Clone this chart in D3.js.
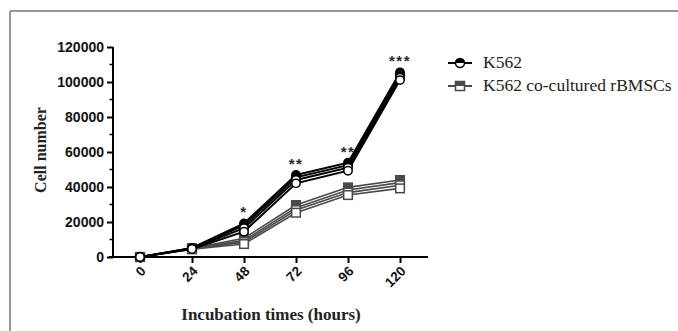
<!DOCTYPE html>
<html><head><meta charset="utf-8">
<script src="https://cdn.jsdelivr.net/npm/d3@7"></script>
<style>body{margin:0;background:#fff}svg{display:block}</style>
</head><body>
<svg id="c" width="678" height="331"></svg>
<script>
const times = [0, 24, 48, 72, 96, 120];
const yTicks = [0, 20000, 40000, 60000, 80000, 100000, 120000];
const k562Reps = [
  [0, 5200, 19200, 46900, 53900, 105500],
  [0, 5000, 18000, 45500, 52500, 104000],
  [0, 4800, 16500, 44000, 51000, 102500],
  [0, 4600, 14500, 42100, 49300, 101100]
];
const coReps = [
  [0, 5000, 10700, 29700, 39800, 44000],
  [0, 4800, 9500, 28200, 38300, 42500],
  [0, 4600, 8500, 26800, 36800, 41000],
  [0, 4400, 7400, 25300, 35400, 39200]
];
const sigTimes = [48, 72, 96, 120];
const sigLabels = ["*", "**", "**", "***"];
const seriesNames = ["K562", "K562 co-cultured rBMSCs"];

const svg = d3.select("#c");
// frame
svg.append("line").attr("x1",10).attr("y1",11).attr("x2",678).attr("y2",11).attr("stroke","#777").attr("stroke-width",1.5);
svg.append("line").attr("x1",10).attr("y1",11).attr("x2",10).attr("y2",331).attr("stroke","#777").attr("stroke-width",1.5);

const x = d3.scaleLinear().domain([0,120]).range([140,400]);
const y = d3.scaleLinear().domain([0,120000]).range([257,47]);
const x0 = 113;

// y axis
const ya = svg.append("g").attr("transform",`translate(${x0},0)`)
  .call(d3.axisLeft(y).tickValues(yTicks).tickSize(6).tickPadding(3).tickFormat(d3.format("d")));
ya.select(".domain").attr("d",`M0,${y(120000)}V${y(0)}`).attr("stroke","#000").attr("stroke-width",2);
ya.selectAll(".tick line").attr("stroke","#000").attr("stroke-width",2);
ya.selectAll(".tick text").attr("font-family","Arial, Liberation Sans, sans-serif").attr("font-weight","bold").attr("font-size",14).attr("fill","#111");
const minor = d3.range(10000,120000,20000);
ya.selectAll(".minor").data(minor).enter().append("line").attr("class","minor")
  .attr("x1",-3.5).attr("x2",0).attr("y1",d=>y(d)).attr("y2",d=>y(d)).attr("stroke","#000").attr("stroke-width",1.5);

// x axis
const xa = svg.append("g").attr("transform",`translate(0,${y(0)})`)
  .call(d3.axisBottom(x).tickValues(times).tickSize(6).tickFormat(d=>d));
xa.select(".domain").attr("d",`M${x0-4},0H428`).attr("stroke","#000").attr("stroke-width",2);
xa.selectAll(".tick line").attr("stroke","#000").attr("stroke-width",2);
xa.selectAll(".tick text").attr("font-family","Arial, Liberation Sans, sans-serif").attr("font-weight","bold").attr("font-size",13.5).attr("fill","#111")
  .attr("text-anchor","end").attr("dy",0).attr("y",0)
  .attr("transform","translate(6,15) rotate(-45)");

// axis titles
svg.append("text").attr("transform",`translate(46,150) rotate(-90)`).attr("text-anchor","middle")
  .attr("font-family","Liberation Serif, Times New Roman, serif").attr("font-weight","bold").attr("font-size",16).attr("fill","#222").text("Cell number");
svg.append("text").attr("x",271).attr("y",320).attr("text-anchor","middle")
  .attr("font-family","Liberation Serif, Times New Roman, serif").attr("font-weight","bold").attr("font-size",17).attr("fill","#222").text("Incubation times (hours)");

const line = d3.line().x((d,i)=>x(times[i])).y(d=>y(d));

function drawSeries(reps, color, lw, shape) {
  const g = svg.append("g");
  reps.forEach((r,k)=>{
    g.append("path").attr("d",line(r)).attr("fill","none").attr("stroke",color).attr("stroke-width",lw);
  });
  reps.forEach((r,k)=>{
    const filled = k < 2;
    r.forEach((v,i)=>{
      if (shape==="circle") {
        g.append("circle").attr("cx",x(times[i])).attr("cy",y(v)).attr("r",4.2)
          .attr("fill",filled?color:"#fff").attr("stroke",color).attr("stroke-width",1.5);
      } else {
        g.append("rect").attr("x",x(times[i])-4.3).attr("y",y(v)-4.3).attr("width",8.6).attr("height",8.6)
          .attr("fill",filled?color:"#fff").attr("stroke",color).attr("stroke-width",1.5);
      }
    });
  });
}
drawSeries(coReps, "#4a4a4a", 1.6, "square");
drawSeries(k562Reps, "#000", 2, "circle");

// significance stars
sigTimes.forEach((t,i)=>{
  const idx = times.indexOf(t);
  const top = d3.max(k562Reps, r=>r[idx]);
  svg.append("text").attr("x",x(t)).attr("y",y(top)-6).attr("text-anchor","middle")
    .attr("font-family","Arial, Liberation Sans, sans-serif").attr("font-size",15).attr("font-weight","bold")
    .attr("fill","#2a2a2a").attr("letter-spacing",1.5).text(sigLabels[i]);
});

// legend
const legY = [63, 86];
const legColors = ["#000","#4a4a4a"];
seriesNames.forEach((n,i)=>{
  const g = svg.append("g").attr("transform",`translate(0,${legY[i]})`);
  g.append("line").attr("x1",448).attr("x2",472).attr("y1",0).attr("y2",0).attr("stroke",legColors[i]).attr("stroke-width",2);
  if (i===0) {
    g.append("circle").attr("cx",460).attr("cy",0).attr("r",4.5).attr("fill","#fff").attr("stroke","#000").attr("stroke-width",1.5);
    g.append("path").attr("d",d3.arc()({innerRadius:0,outerRadius:4.5,startAngle:-Math.PI/2,endAngle:Math.PI/2})).attr("transform","translate(460,0)").attr("fill","#000");
  } else {
    g.append("rect").attr("x",455.5).attr("y",-4.5).attr("width",9).attr("height",9).attr("fill","#fff").attr("stroke",legColors[i]).attr("stroke-width",1.5);
    g.append("rect").attr("x",455.5).attr("y",-4.5).attr("width",9).attr("height",4.5).attr("fill",legColors[i]);
  }
  g.append("text").attr("x",483).attr("y",5).attr("font-family","Liberation Serif, Times New Roman, serif")
    .attr("font-size",17.5).attr("fill","#222").text(n);
});
</script>
</body></html>
